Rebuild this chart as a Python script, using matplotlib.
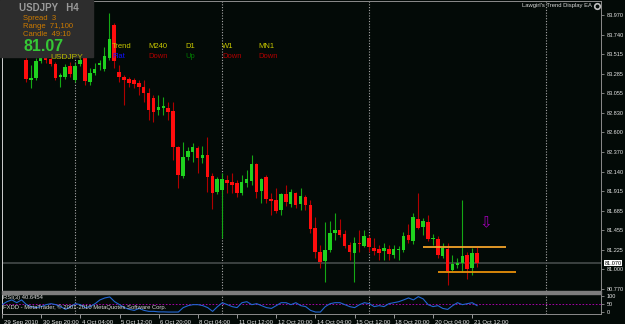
import numpy as np
import matplotlib
matplotlib.use('Agg')
import matplotlib.pyplot as plt
from matplotlib.patches import Rectangle
from matplotlib.lines import Line2D
from matplotlib.transforms import ScaledTranslation

plt.rcParams['font.family'] = ['Liberation Sans', 'DejaVu Sans']

# USDJPY H4 bars, index -5 = 29 Sep 2010 12:00 ... 92 = 21 Oct 16:00
opens = [83.584, 83.701, 83.608, 83.713, 83.619,
         83.444, 83.210, 83.234, 83.432, 83.467, 83.456, 83.397, 83.245, 83.245, 83.374,
         83.210, 83.397, 83.467, 83.187, 83.292, 83.386, 83.339, 83.467, 83.853, 83.304,
         83.245, 83.222, 83.210, 83.175, 83.129, 83.059, 83.000, 82.860, 82.883, 82.883,
         82.848, 82.428, 82.089, 82.311, 82.369, 82.416, 82.299, 82.334, 82.089, 81.902,
         81.925, 82.042, 82.019, 82.007, 81.890, 82.007, 82.031, 82.229, 81.914, 82.077,
         81.820, 81.809, 81.692, 81.879, 81.762, 81.890, 81.762, 81.844, 81.750, 81.481,
         81.201, 81.096, 81.224, 81.423, 81.458, 81.411, 81.283, 81.190, 81.306, 81.271,
         81.365, 81.248, 81.236, 81.213, 81.236, 81.166, 81.224, 81.224, 81.400, 81.330,
         81.587, 81.493, 81.552, 81.353, 81.353, 81.154, 81.236, 80.991, 81.049, 81.073,
         81.166, 81.014, 81.190]
highs = [83.736, 83.759, 83.759, 83.736, 83.678,
         83.479, 83.386, 83.467, 83.491, 83.479, 83.479, 83.421, 83.292, 83.397, 83.421,
         83.409, 83.467, 83.491, 83.351, 83.409, 83.444, 83.596, 83.993, 83.876, 83.386,
         83.269, 83.245, 83.234, 83.210, 83.210, 83.117, 83.035, 83.035, 83.012, 82.953,
         82.953, 82.439, 82.486, 82.428, 82.474, 82.439, 82.439, 82.545, 82.124, 82.077,
         82.124, 82.101, 82.124, 82.042, 82.101, 82.159, 82.334, 82.241, 82.066, 82.101,
         81.890, 81.949, 81.890, 81.984, 81.937, 81.902, 81.949, 81.868, 81.809, 81.610,
         81.283, 81.552, 81.563, 81.657, 81.587, 81.458, 81.318, 81.376, 81.458, 81.458,
         81.400, 81.365, 81.283, 81.306, 81.283, 81.283, 81.271, 81.435, 81.528, 81.657,
         81.890, 81.598, 81.633, 81.411, 81.388, 81.306, 81.306, 81.166, 81.131, 81.809,
         81.201, 81.248, 81.260]
lows = [83.538, 83.561, 83.584, 83.561, 83.479,
        83.187, 83.117, 83.210, 83.409, 83.409, 83.374, 83.210, 83.129, 83.222, 83.245,
        83.187, 83.374, 83.152, 83.152, 83.269, 83.327, 83.316, 83.444, 83.351, 83.187,
        82.918, 83.129, 83.117, 83.035, 82.953, 82.743, 82.720, 82.802, 82.802, 82.743,
        82.276, 81.949, 82.066, 82.276, 82.253, 82.124, 82.241, 81.902, 81.704, 81.879,
        81.365, 81.890, 81.890, 81.844, 81.868, 81.960, 81.984, 81.832, 81.774, 81.774,
        81.633, 81.657, 81.633, 81.739, 81.727, 81.715, 81.692, 81.692, 81.423, 81.131,
        81.014, 80.851, 81.201, 81.341, 81.376, 81.248, 81.108, 80.851, 81.201, 81.260,
        81.201, 81.166, 81.108, 81.108, 81.108, 81.131, 81.108, 81.201, 81.306, 81.295,
        81.470, 81.400, 81.330, 81.283, 81.131, 81.131, 80.816, 80.979, 81.014, 80.967,
        80.886, 80.932, 81.026]
closes = [83.678, 83.608, 83.724, 83.596, 83.491,
          83.222, 83.234, 83.432, 83.467, 83.444, 83.397, 83.234, 83.269, 83.362, 83.281,
          83.374, 83.444, 83.199, 83.292, 83.339, 83.409, 83.491, 83.689, 83.432, 83.245,
          83.210, 83.175, 83.164, 83.129, 83.059, 82.860, 82.837, 82.895, 82.907, 82.837,
          82.428, 82.101, 82.311, 82.381, 82.428, 82.299, 82.334, 82.077, 81.890, 82.054,
          82.054, 82.007, 81.984, 81.890, 82.019, 82.054, 82.229, 81.902, 82.054, 81.820,
          81.797, 81.680, 81.879, 81.785, 81.902, 81.750, 81.855, 81.750, 81.470, 81.201,
          81.084, 81.224, 81.423, 81.458, 81.400, 81.271, 81.201, 81.306, 81.295, 81.388,
          81.260, 81.213, 81.190, 81.248, 81.178, 81.236, 81.236, 81.388, 81.341, 81.610,
          81.481, 81.563, 81.353, 81.365, 81.166, 81.248, 80.979, 81.061, 81.073, 81.154,
          81.003, 81.190, 81.070]
rsi = [47, 65, 76, 59, 76,
       47, 35, 29, 35, 47, 53, 47, 35, 18, 35,
       53, 47, 29, 35, 53, 76, 88, 94, 65, 47,
       29, 18, 12, 24, 12, 6, 6, 3, 3, 2,
       2, 2, 29, 41, 47, 47, 41, 29, 6, 35,
       59, 47, 35, 29, 59, 65, 47, 53, 41, 29,
       24, 41, 59, 59, 47, 59, 41, 35, 12, 2,
       2, 35, 53, 59, 59, 47, 35, 29, 47, 59,
       53, 35, 41, 35, 53, 59, 65, 76, 88, 76,
       96, 82, 47, 35, 41, 24, 18, 41, 59, 47,
       53, 59, 41]

price_ticks = [83.970, 83.740, 83.515, 83.285, 83.055, 82.830, 82.600, 82.370,
               82.140, 81.915, 81.685, 81.455, 81.225, 81.000, 80.770]
date_pos = [-5, 3, 11, 19, 27, 35, 43, 51, 59, 67, 75, 83, 91]
date_labels = ['29 Sep 2010', '30 Sep 20:00', '4 Oct 04:00', '5 Oct 12:00', '6 Oct 20:00',
               '8 Oct 04:00', '11 Oct 12:00', '12 Oct 20:00', '14 Oct 04:00',
               '15 Oct 12:00', '18 Oct 20:00', '20 Oct 04:00', '21 Oct 12:00']
grid_pos = [10, 40, 70, 106]
bid = 81.070
upper_level, upper_span = 81.260, (81, 98)
lower_level, lower_span = 80.967, (84, 100)
trend_tf = ['M240', 'D1', 'W1', 'MN1']
trend_dir = ['Down', 'Up', 'Down', 'Down']

W, H = 625, 324
BG = '#030a07'
GREEN, RED = '#1fd21f', '#ff0d0d'


def fx(x):
    return x / W


def fy(y):
    return 1 - y / H


bars = np.arange(-5, 93)
o, h, l, c = map(np.array, (opens, highs, lows, closes))
up = c >= o

fig = plt.figure(figsize=(W / 100, H / 100), dpi=100, facecolor=BG)

# main price window
ax = fig.add_axes([fx(2), fy(291), fx(599), 290 / H])
ax.set_facecolor(BG)
ax.vlines(bars, l, h, colors=np.where(up, '#14a814', '#b00000'), lw=0.8, zorder=2)
ax.bar(bars, np.maximum(np.abs(c - o), 0.006), bottom=np.minimum(o, c), width=0.72,
       color=np.where(up, GREEN, RED), lw=0, zorder=3)
for g in grid_pos:
    ax.axvline(g, color='#a8a8a8', lw=0.8, ls=(0, (1, 1.5)), zorder=1)
ax.axhline(bid, color='#454a4a', lw=1.2, zorder=1)
ax.hlines(upper_level, *upper_span, color='#f2a22a', lw=1.3, zorder=4)
ax.hlines(lower_level, *lower_span, color='#e8900a', lw=1.3, zorder=4)
ax.text(93.8, 81.54, '\u21e9', color='#a000b4', fontsize=11, ha='center', va='center',
        family='DejaVu Sans', zorder=5)
ax.set_xlim(-4.9, 117.3)
ax.set_ylim(80.746, 84.133)
ax.set_xticks([])
ax.yaxis.tick_right()
ax.set_yticks(price_ticks)
ax.set_yticklabels([f'{v:.3f}' for v in price_ticks])
ax.tick_params(axis='y', color='#909090', labelcolor='#e6e6e6', labelsize=4,
               length=2.5, width=0.6, pad=1.5)
for side in ['top', 'right']:
    ax.spines[side].set_color('#8c8c8c')
    ax.spines[side].set_linewidth(0.7)
ax.spines['left'].set_color('#d0d0d0')
ax.spines['left'].set_linewidth(0.7)
ax.spines['bottom'].set_visible(False)
ax.text(1.006, bid, f'{bid:.3f}', transform=ax.get_yaxis_transform(), fontsize=4,
        color='black', ha='left', va='center', clip_on=False, zorder=10,
        bbox=dict(fc='white', ec='none', pad=0.5))

# separator between windows
fig.add_artist(Rectangle((fx(2), fy(294)), fx(599), 3 / H, transform=fig.transFigure,
                         color='#7d7d7d', zorder=4))

# RSI window
ax_r = fig.add_axes([fx(2), fy(314), fx(599), 20 / H])
ax_r.set_facecolor(BG)
ax_r.plot(bars, rsi, color='#2366d2', lw=0.8, zorder=3)
ax_r.axhline(50, color='#c000c0', lw=0.6, ls=(0, (2, 2)), zorder=2)
for g in grid_pos:
    ax_r.axvline(g, color='#a8a8a8', lw=0.8, ls=(0, (1, 1.5)), zorder=1)
ax_r.set_xlim(-4.9, 117.3)
ax_r.set_ylim(-10, 112)
ax_r.yaxis.tick_right()
ax_r.set_yticks([100, 50, 0])
ax_r.set_yticklabels(['100', '50', '0'])
ax_r.tick_params(axis='y', color='#909090', labelcolor='#e6e6e6', labelsize=4,
                 length=2.5, width=0.6, pad=1.5)
ax_r.set_xticks(date_pos)
ax_r.set_xticklabels(date_labels)
ax_r.tick_params(axis='x', color='#b0b0b0', labelcolor='#e6e6e6', labelsize=4.3,
                 length=3, width=0.6, pad=1)
shift = ScaledTranslation(1.5 / 100, 0, fig.dpi_scale_trans)
for lbl in ax_r.get_xticklabels():
    lbl.set_ha('left')
    lbl.set_transform(lbl.get_transform() + shift)
for side in ['top', 'right', 'bottom']:
    ax_r.spines[side].set_color('#8c8c8c')
    ax_r.spines[side].set_linewidth(0.7)
ax_r.spines['left'].set_color('#d0d0d0')
ax_r.spines['left'].set_linewidth(0.7)
fig.text(fx(3), fy(298), 'RSI(3) 40.6454', fontsize=4.2, color='#d8d8d8',
         va='center', zorder=8)
fig.text(fx(3), fy(307), 'FXDD - MetaTrader, \u00a9 2001-2010 MetaQuotes Software Corp.',
         fontsize=4.2, color='#d8d8d8', va='center', zorder=8)

# info box
fig.add_artist(Rectangle((0, fy(57)), fx(93), 57 / H, transform=fig.transFigure,
                         color='#2d2d2d', zorder=5))
fig.text(fx(19), fy(8), 'USDJPY   H4', fontsize=7, color='#9a9a9a', weight='bold',
         va='center', zorder=6)
for txt, yy in [('Spread  3', 18), ('Range  71,100', 27), ('Candle  49:10', 35)]:
    fig.text(fx(23), fy(yy), txt, fontsize=5.5, color='#cc7a00', va='center', zorder=6)
fig.text(fx(24), fy(46.5), '81.07', fontsize=11.5, color='#35c835', weight='bold',
         va='center', zorder=6)
fig.text(fx(50), fy(57.5), 'USDJPY', fontsize=6, color='#b8b800', va='center', zorder=7)

# trend table
fig.text(fx(112), fy(46), 'Trend', fontsize=5.5, color='#c8c800', va='center', zorder=6)
fig.text(fx(112), fy(57), 'Flat', fontsize=5.5, color='#1010ff', va='center', zorder=6)
for tf, d, xx in zip(trend_tf, trend_dir, [148, 185, 222, 258]):
    fig.text(fx(xx), fy(46), tf, fontsize=5.5, color='#c8c800', va='center', zorder=6)
    fig.text(fx(xx), fy(57), d, fontsize=5.5, va='center', zorder=6,
             color='#007a00' if d == 'Up' else '#b00000')

fig.text(fx(592), fy(6), "Lawgirl's Trend Display EA", fontsize=4.2, color='#d8d8d8',
         ha='right', va='center', zorder=6)
fig.add_artist(Line2D([fx(597)], [fy(6)], marker='o', ms=4, mfc='none', mec='#c0c0c0',
                      mew=1.2, transform=fig.transFigure, zorder=6))

fig.savefig('out.png', dpi=100, facecolor=BG)
